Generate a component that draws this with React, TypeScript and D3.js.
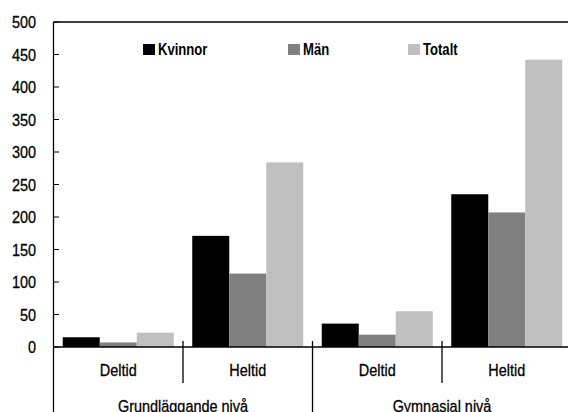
import React from "react";
import * as d3 from "d3";

const categories = ["Deltid", "Heltid", "Deltid", "Heltid"];
const groups = ["Grundläggande nivå", "Gymnasial nivå"];
const seriesNames = ["Kvinnor", "Män", "Totalt"];
const kvinnor = [15, 171, 36, 235];
const man = [7, 113, 19, 207];
const totalt = [22, 284, 55, 442];
const yTicks = [0, 50, 100, 150, 200, 250, 300, 350, 400, 450, 500];
const colors = ["#000000", "#808080", "#c0c0c0"];

const W = 568;
const H = 412;
const FONT = "'Liberation Sans', Arial, sans-serif";
const SX = 0.85;

function NText(props: {
  x: number;
  y: number;
  anchor?: string;
  size: number;
  bold?: boolean;
  sx?: number;
  dy?: string;
  children: React.ReactNode;
}) {
  const { x, y, anchor = "start", size, bold, sx = SX, dy, children } = props;
  return (
    <text
      transform={`translate(${x},${y}) scale(${sx},1)`}
      textAnchor={anchor}
      fontSize={size}
      fontWeight={bold ? "bold" : "normal"}
      dy={dy}
      fill="#000"
      stroke={bold ? "none" : "#000"}
      strokeWidth={bold ? 0 : 0.3}
    >
      {children}
    </text>
  );
}

export default function App() {
  const left = 53.5;
  const right = 571.5;
  const top = 22;
  const bottom = 347;
  const series = [kvinnor, man, totalt];
  const idx = categories.map((_, i) => String(i));
  const x = d3.scaleBand<string>().domain(idx).range([left, right]).padding(0);
  const bw = x.bandwidth();
  const inner = d3
    .scaleBand<string>()
    .domain(seriesNames)
    .range([9.25, bw - 9.25])
    .padding(0);
  const y = d3.scaleLinear().domain([0, 500]).range([bottom, top]);

  const legendX = [143, 288, 408];

  return (
    <svg
      width={W}
      height={H}
      style={{ position: "absolute", left: 0, top: 0, background: "#fff" }}
      fontFamily={FONT}
    >
      {/* bars */}
      {series.map((vals, s) =>
        vals.map((v, i) => (
          <rect
            key={`${s}-${i}`}
            x={(x(String(i)) as number) + (inner(seriesNames[s]) as number)}
            y={y(v)}
            width={inner.bandwidth()}
            height={y(0) - y(v)}
            fill={colors[s]}
          />
        ))
      )}
      {/* frame */}
      <line x1={left} x2={W} y1={top} y2={top} stroke="#000" strokeWidth={1.3} />
      <line x1={left} x2={left} y1={top} y2={H} stroke="#000" strokeWidth={1.3} />
      <line x1={left} x2={W} y1={bottom} y2={bottom} stroke="#000" strokeWidth={1.3} />
      {/* y ticks */}
      {yTicks.map((t) => (
        <g key={t}>
          <line x1={left} x2={left + 5.5} y1={y(t)} y2={y(t)} stroke="#000" strokeWidth={1} />
          <NText x={36} y={y(t)} dy="0.36em" anchor="end" size={17}>
            {t}
          </NText>
        </g>
      ))}
      {/* category separators */}
      {idx.slice(1).map((k, i) => {
        const xx = x(k) as number;
        const isGroup = i === 1;
        return (
          <line
            key={k}
            x1={xx}
            x2={xx}
            y1={bottom - 6}
            y2={isGroup ? H : 383}
            stroke="#000"
            strokeWidth={1.3}
          />
        );
      })}
      {/* category labels */}
      {categories.map((c, i) => (
        <NText key={i} x={(x(String(i)) as number) + bw / 2} y={376} anchor="middle" size={17}>
          {c}
        </NText>
      ))}
      {/* group labels */}
      {groups.map((g, i) => (
        <NText key={g} x={(x(String(i * 2)) as number) + bw} y={411.5} anchor="middle" size={17}>
          {g}
        </NText>
      ))}
      {/* legend */}
      {seriesNames.map((n, i) => (
        <g key={n}>
          <rect x={legendX[i]} y={44} width={12} height={11} fill={colors[i]} />
          <NText x={legendX[i] + 15} y={55} size={17} bold sx={0.77}>
            {n}
          </NText>
        </g>
      ))}
    </svg>
  );
}
